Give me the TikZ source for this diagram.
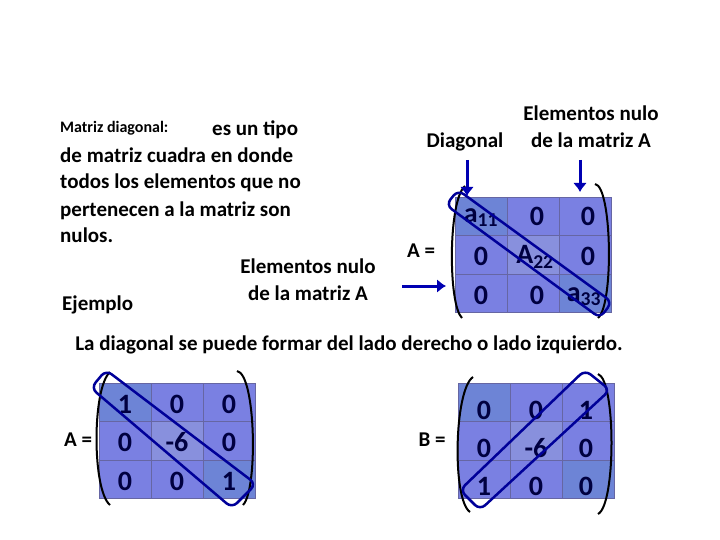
\documentclass[tikz,border=0pt]{standalone}
\usepackage{fontspec}
\usetikzlibrary{arrows.meta}
\setmainfont{Carlito}
\begin{document}
\begin{tikzpicture}[x=1pt,y=-1pt,
  txt/.style={text=black,font=\fontsize{21}{27}\selectfont\bfseries,inner sep=0},
  num/.style={text=blue!25!black,font=\fontsize{28}{30}\selectfont\bfseries,inner sep=0},
  band/.style={draw=blue!60!black,line width=2.5pt,rounded corners=7pt},
  brk/.style={draw=black,line width=2pt},
  arr/.style={draw=blue!70!black,line width=3pt,-{Latex[length=9pt,width=14pt]}}]
\definecolor{c1}{HTML}{7A80E2}\definecolor{c2}{HTML}{6D84D6}\definecolor{c3}{HTML}{8890DD}
\useasboundingbox (0,0) rectangle (720,540);
\newcommand{\mycells}[3]{%
 \foreach \i/\j/\c in {0/0/c2,1/0/c1,2/0/c1,0/1/c1,1/1/c3,2/1/c1,0/2/c1,1/2/c1,2/2/c2}{
  \fill[\c] ({#1+\i*#3},{#2+\j*38.5}) rectangle ++(#3,38.5);
  \draw[blue!40!black!60,line width=0.4pt] ({#1+\i*#3},{#2+\j*38.5}) rectangle ++(#3,38.5);}}
\node[txt,anchor=base west,font=\fontsize{16}{18}\selectfont\bfseries] (t0) at (60,133) {Matriz diagonal:};
\node[txt,anchor=base west] (t1) at (212,136) {es un tipo};
\node[txt,anchor=base west] (t2) at (60,163) {de matriz cuadra en donde};
\node[txt,anchor=base west] (t3) at (60,189) {todos los elementos que no};
\node[txt,anchor=base west] (t4) at (60,216) {pertenecen a la matriz son};
\node[txt,anchor=base west] (t5) at (60,243) {nulos.};
\node[txt,align=center] (en1) at (308,280) {Elementos nulo\\de la matriz A};
\node[txt,anchor=base west] (ej) at (62,310) {Ejemplo};
\node[txt] (dg) at (465,142) {Diagonal};
\node[txt,align=center] (en2) at (591,127) {Elementos nulo\\de la matriz A};
\node[txt] (lab) at (349,345) {La diagonal se puede formar del lado derecho o lado izquierdo.};
\mycells{455}{197}{52}
\node[txt] (aeq) at (421,251) {A =};
\node[num] at (481,218) {a\textsubscript{11}};
\node[num] at (537,216) {0};\node[num] at (588,216) {0};
\node[num] at (481,256) {0};\node[num] at (535,257) {A\textsubscript{22}};\node[num] at (588,256) {0};
\node[num] at (481,295) {0};\node[num] at (537,295) {0};\node[num] at (584,297) {a\textsubscript{33}};
\draw[brk] (465,186) .. controls (448,200) and (448,305) .. (462,318);
\draw[brk] (595,184) .. controls (612,186) and (614,305) .. (598,318);
\draw[band] (458,190) -- (446,205) -- (600,318) -- (612,302) -- cycle;
\coordinate (s1) at (467,160);\coordinate (e1) at (467,196);
\coordinate (s2) at (580,160);\coordinate (e2) at (580,192);
\coordinate (s3) at (402,286);\coordinate (e3) at (446,286);
\draw[arr] (s1) -- (e1);\draw[arr] (s2) -- (e2);\draw[arr] (s3) -- (e3);
\mycells{99}{383}{52}
\node[txt] (aeq2) at (78,440) {A =};
\node[num] at (125,404) {1};\node[num] at (177,404) {0};\node[num] at (229,404) {0};
\node[num] at (125,442) {0};\node[num] at (177,442) {-6};\node[num] at (229,442) {0};
\node[num] at (125,481) {0};\node[num] at (177,481) {0};\node[num] at (229,481) {1};
\draw[brk] (110,372) .. controls (92,388) and (92,490) .. (110,505);
\draw[brk] (237,371) .. controls (256,374) and (258,490) .. (243,505);
\draw[band] (106,370) -- (91,388) -- (232,508) -- (256,484) -- cycle;
\mycells{458}{383}{52}
\node[txt] (beq) at (432,440) {B =};
\node[num] at (484,410) {0};\node[num] at (536,410) {0};\node[num] at (586,410) {1};
\node[num] at (484,448) {0};\node[num] at (536,448) {-6};\node[num] at (586,448) {0};
\node[num] at (484,486) {1};\node[num] at (536,486) {0};\node[num] at (586,486) {0};
\draw[brk] (473,377) .. controls (454,390) and (452,500) .. (470,512);
\draw[brk] (598,374) .. controls (616,380) and (616,505) .. (598,514);
\draw[band] (585,370) -- (460,490) -- (480,510) -- (610,390) -- cycle;
\end{tikzpicture}
\end{document}
